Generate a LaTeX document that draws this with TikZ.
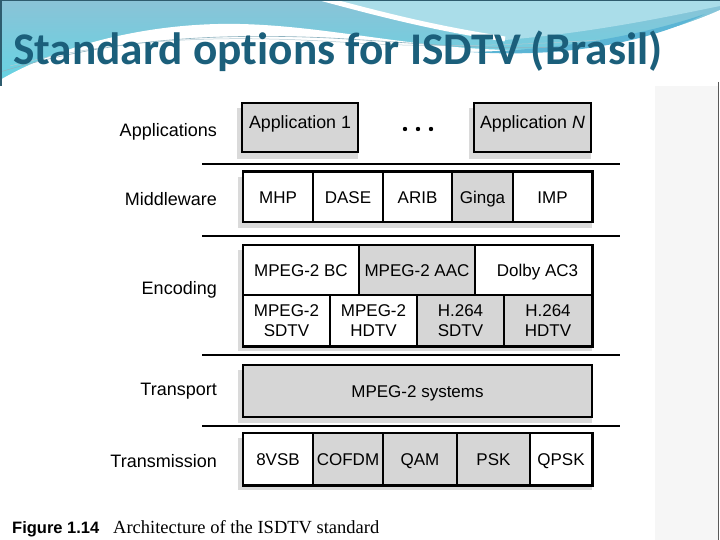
\documentclass[tikz,border=0pt]{standalone}
\usepackage{fontspec}
\setmainfont{Liberation Sans}
\newfontfamily\titlefont[Ligatures={NoCommon}]{Carlito}
\newfontfamily\capserif{Liberation Serif}
\definecolor{titlecol}{HTML}{1B5F7B}
\definecolor{hdrtop}{HTML}{8AC3D7}
\definecolor{hdrbot}{HTML}{62D5E4}
\definecolor{hdrlight}{HTML}{AADDE9}
\definecolor{hdrstreak}{HTML}{5BB5D5}
\definecolor{hdrdark}{HTML}{2E5C6E}
\definecolor{swcol}{HTML}{8FB3C0}
\definecolor{boxgrey}{HTML}{D6D6D6}
\definecolor{shadowgrey}{HTML}{DADADA}
\definecolor{scangrey}{HTML}{F6F6F6}
\tikzset{
  cellbox/.style={draw=black, line width=1.2pt, inner sep=0pt, font=\fontsize{17}{20}\selectfont, align=center},
  caps/.style={text height=12.2pt, text depth=0pt},
  greyfill/.style={fill=boxgrey},
  whitefill/.style={fill=white},
  outerframe/.style={draw=black, line width=1.8pt},
  shadowbox/.style={fill=shadowgrey},
  sepline/.style={draw=black, line width=1.8pt},
  layerlabel/.style={anchor=base east, inner sep=0pt, font=\fontsize{18}{20}\selectfont},
  dotnode/.style={circle, fill=black, inner sep=0pt, minimum size=4.4pt},
}
\begin{document}
\begin{tikzpicture}[x=1pt,y=-1pt]
\useasboundingbox (0,0) rectangle (720,540);
% ---------- header ----------
\shade[top color=hdrtop, bottom color=hdrbot] (0,0) rectangle (720,90);
\fill[hdrlight] (318,0) .. controls (390,18) and (440,30) .. (505,40) .. controls (600,32) and (680,14) .. (720,6) -- (720,0) -- cycle;
\draw[white, line width=5pt] (320,-2) .. controls (390,17) and (440,29) .. (505,39);
\fill[white] (0,80) .. controls (60,45) and (150,22) .. (240,24) .. controls (330,26) and (420,50) .. (520,50) .. controls (610,50) and (680,28) .. (720,10) -- (720,540) -- (0,540) -- cycle;
\fill[hdrstreak] (470,52) .. controls (560,50) and (640,36) .. (705,14) .. controls (645,44) and (560,58) .. (470,52) -- cycle;
\draw[swcol, line width=0.6pt] (0,72) .. controls (100,42) and (200,32) .. (330,38) .. controls (420,43) and (480,50) .. (560,47);
\draw[swcol!70, line width=0.5pt] (10,66) .. controls (110,40) and (210,34) .. (340,42) .. controls (430,48) and (500,46) .. (600,40);
\draw[hdrdark, line width=1.5pt] (0,0.75) -- (720,0.75);
\draw[hdrdark, line width=1.5pt] (0.75,0) -- (0.75,86);
% right scan strip
\fill[scangrey] (655,86) rectangle (718,540);
\draw[black!65, line width=1pt] (718.5,82) -- (718.5,540);
% title
\node[anchor=base west, inner sep=0pt, text=titlecol, font=\titlefont\bfseries\fontsize{45.3}{50}\selectfont] (title) at (13,65) {Standard options for ISDTV (Brasil)};
% ---------- separators ----------
\draw[sepline] (202,164) -- (620,164);
\draw[sepline] (202,236) -- (620,236);
\draw[sepline] (202,355) -- (620,355);
\draw[sepline] (202,426) -- (620,426);
% ---------- labels ----------
\node[layerlabel] (lapp) at (217,137) {Applications};
\node[layerlabel] (lmid) at (217,206) {Middleware};
\node[layerlabel] (lenc) at (217,294) {Encoding};
\node[layerlabel] (ltra) at (217,395) {Transport};
\node[layerlabel] (ltrm) at (217,467) {Transmission};
% ---------- shadows ----------
\fill[shadowbox] (237,108) rectangle (358,159);
\fill[shadowbox] (469,108) rectangle (591,159);
\fill[shadowbox] (238,177) rectangle (592,228);
\fill[shadowbox] (238,250) rectangle (592,351);
\fill[shadowbox] (238,370) rectangle (592,423);
\fill[shadowbox] (238,438) rectangle (592,490);
% ---------- applications ----------
\node[cellbox, greyfill, line width=1.8pt, minimum width=116pt, minimum height=49pt, text height=12.2pt, text depth=10pt, font=\fontsize{17.8}{20}\selectfont] (app1) at (300,127.5) {Application 1};
\node[cellbox, greyfill, line width=1.8pt, minimum width=117pt, minimum height=49pt, text height=12.2pt, text depth=10pt, font=\fontsize{17.8}{20}\selectfont] (appN) at (532.5,127.5) {Application \textit{N}};
\node[dotnode] (d1) at (405,129) {};
\node[dotnode] (d2) at (418,129) {};
\node[dotnode] (d3) at (431,129) {};
% ---------- middleware ----------
\node[cellbox, caps, whitefill, minimum width=70pt, minimum height=50pt] (mhp) at (278,197) {MHP};
\node[cellbox, caps, whitefill, minimum width=70pt, minimum height=50pt] (dase) at (348,197) {DASE};
\node[cellbox, caps, whitefill, minimum width=69pt, minimum height=50pt] (arib) at (417.5,197) {ARIB};
\node[cellbox, caps, greyfill, minimum width=61pt, minimum height=50pt] (ginga) at (482.5,197) {Ginga};
\node[cellbox, caps, whitefill, minimum width=79pt, minimum height=50pt] (imp) at (552.5,197) {IMP};
\draw[outerframe] (mhp.north west) rectangle (imp.south east);
% ---------- encoding ----------
\node[cellbox, caps, whitefill, minimum width=116pt, minimum height=50pt] (bc) at (301,270) {MPEG-2 BC};
\node[cellbox, caps, greyfill, minimum width=116pt, minimum height=50pt] (aac) at (417,270) {MPEG-2 AAC};
\node[cellbox, caps, whitefill, minimum width=117pt, minimum height=50pt] (ac3) at (533.5,270) {\hspace*{8pt}Dolby AC3};
\node[cellbox, whitefill, minimum width=87pt, minimum height=51pt] (m2sd) at (286.5,320.5) {MPEG-2\\SDTV};
\node[cellbox, whitefill, minimum width=87pt, minimum height=51pt] (m2hd) at (373.5,320.5) {MPEG-2\\HDTV};
\node[cellbox, greyfill, minimum width=87pt, minimum height=51pt] (hsd) at (460.5,320.5) {H.264\\SDTV};
\node[cellbox, greyfill, minimum width=88pt, minimum height=51pt] (hhd) at (548,320.5) {H.264\\HDTV};
\draw[outerframe] (bc.north west) rectangle (hhd.south east);
% ---------- transport ----------
\node[cellbox, caps, greyfill, line width=1.8pt, minimum width=349pt, minimum height=52pt] (mps) at (417.5,391) {MPEG-2 systems};
% ---------- transmission ----------
\node[cellbox, caps, whitefill, minimum width=70pt, minimum height=52pt] (vsb) at (278,459) {8VSB};
\node[cellbox, caps, greyfill, minimum width=70pt, minimum height=52pt] (cofdm) at (348,459) {COFDM};
\node[cellbox, caps, greyfill, minimum width=74pt, minimum height=52pt] (qam) at (420,459) {QAM};
\node[cellbox, caps, greyfill, minimum width=73pt, minimum height=52pt] (psk) at (493.5,459) {PSK};
\node[cellbox, caps, whitefill, minimum width=62pt, minimum height=52pt] (qpsk) at (561,459) {QPSK};
\draw[outerframe] (vsb.north west) rectangle (qpsk.south east);
% ---------- caption ----------
\node[anchor=base west, inner sep=0pt, font=\bfseries\fontsize{16.5}{20}\selectfont] (fig) at (12,533) {Figure 1.14};
\node[anchor=base west, inner sep=0pt, font=\capserif\fontsize{18.5}{22}\selectfont] (cap) at (113,533) {Architecture of the ISDTV standard};
\end{tikzpicture}
\end{document}
